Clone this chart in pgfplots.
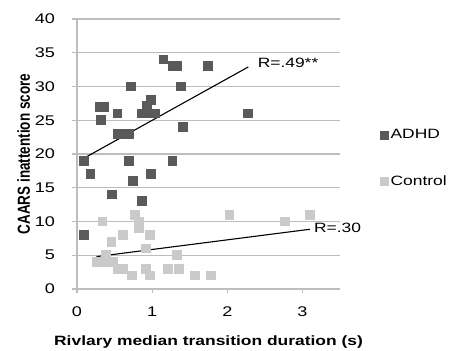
\documentclass[border=0pt]{standalone}
\usepackage{pgfplots}
\pgfplotsset{compat=1.18}
\usepackage{fontspec}
\setmainfont{Liberation Sans}[FakeStretch=1.29]
\newfontfamily\plainfont{Liberation Sans}
\definecolor{adhd}{HTML}{5A5A5A}
\definecolor{ctrl}{HTML}{CACACA}
\definecolor{gridc}{HTML}{BDBDBD}
\begin{document}
\begin{tikzpicture}[x=1pt,y=1pt]
\useasboundingbox (0,0) rectangle (453,351);
\begin{axis}[
  at={(77pt,62pt)}, anchor=south west,
  scale only axis, width=263pt, height=270pt,
  xmin=0, xmax=3.5, ymin=0, ymax=40,
  xtick={0,1,2,3}, ytick={0,5,...,40},
  axis x line*=bottom, axis y line*=left,
  axis line style={gridc, line width=1.2pt},
  ymajorgrids, major grid style={gridc, line width=1.2pt},
  tick style={gridc, line width=1.2pt},
  tick align=outside, major tick length=4.5pt,
  /pgf/number format/assume math mode=true,
  tick label style={font=\fontsize{14}{15}\selectfont},
  xticklabel style={yshift=-10pt},
  yticklabel style={xshift=-14pt, anchor=east},
  xlabel={\textbf{Rivlary median transition duration (s)}},
  ylabel={\scalebox{1}[1.29]{\plainfont\bfseries CAARS inattention score}},
  label style={font=\fontsize{13.5}{15}\selectfont},
  xlabel style={yshift=-12pt},
  ylabel style={yshift=-2pt},
  legend style={at={(1,0.5)}, anchor=west, xshift=40pt, yshift=-4pt, draw=none, fill=none,
    font=\fontsize{13.5}{15}\selectfont, row sep=31pt, inner sep=0pt},
  legend cell align=left,
  clip=false,
]
\addplot[color=adhd, only marks, mark=square*, mark size=4.4pt, mark options={draw=adhd, fill=adhd, line width=0pt},
  legend image code/.code={\fill[adhd] (0pt,-4pt) rectangle (8pt,4pt);}]
 coordinates {
 (1.15,34) (1.27,33) (1.33,33) (1.74,33)
 (0.72,30) (1.38,30)
 (0.30,27) (0.36,27) (0.99,28) (0.93,27.2)
 (0.54,26) (0.87,26) (0.93,26) (1.04,26) (2.28,26)
 (0.32,25) (1.41,24)
 (0.55,23) (0.62,23) (0.69,23)
 (0.09,19) (0.69,19) (1.27,19)
 (0.18,17) (0.99,17) (0.75,16) (0.47,14) (0.87,13) (0.09,8)
 };
\addlegendentry{ADHD}
\addplot[color=ctrl, only marks, mark=square*, mark size=4.4pt, mark options={draw=ctrl, fill=ctrl, line width=0pt},
  legend image code/.code={\fill[ctrl] (0pt,-4pt) rectangle (8pt,4pt);}]
 coordinates {
 (0.34,10) (0.77,11) (0.82,10) (0.82,9) (2.03,11) (2.77,10) (3.10,11)
 (0.61,8) (0.97,8) (0.46,7) (0.92,6) (0.39,5) (1.33,5)
 (0.26,4) (0.33,4) (0.40,4) (0.48,4)
 (0.55,3) (0.61,3) (0.92,3) (1.21,3) (1.36,3)
 (0.73,2) (0.97,2) (1.57,2) (1.78,2)
 };
\addlegendentry{Control}
\addplot[black, line width=1.1pt, forget plot] coordinates {(0.08,19.3) (2.28,32.9)};
\addplot[black, line width=1.1pt, forget plot] coordinates {(0.26,4.8) (3.10,8.85)};
\node[anchor=west, font=\fontsize{13.5}{15}\selectfont, inner sep=1pt] at (axis cs:2.39,33.5) {R=.49**};
\node[anchor=west, font=\fontsize{13.5}{15}\selectfont, inner sep=1pt] at (axis cs:3.14,9.0) {R=.30};
\end{axis}
\end{tikzpicture}
\end{document}
